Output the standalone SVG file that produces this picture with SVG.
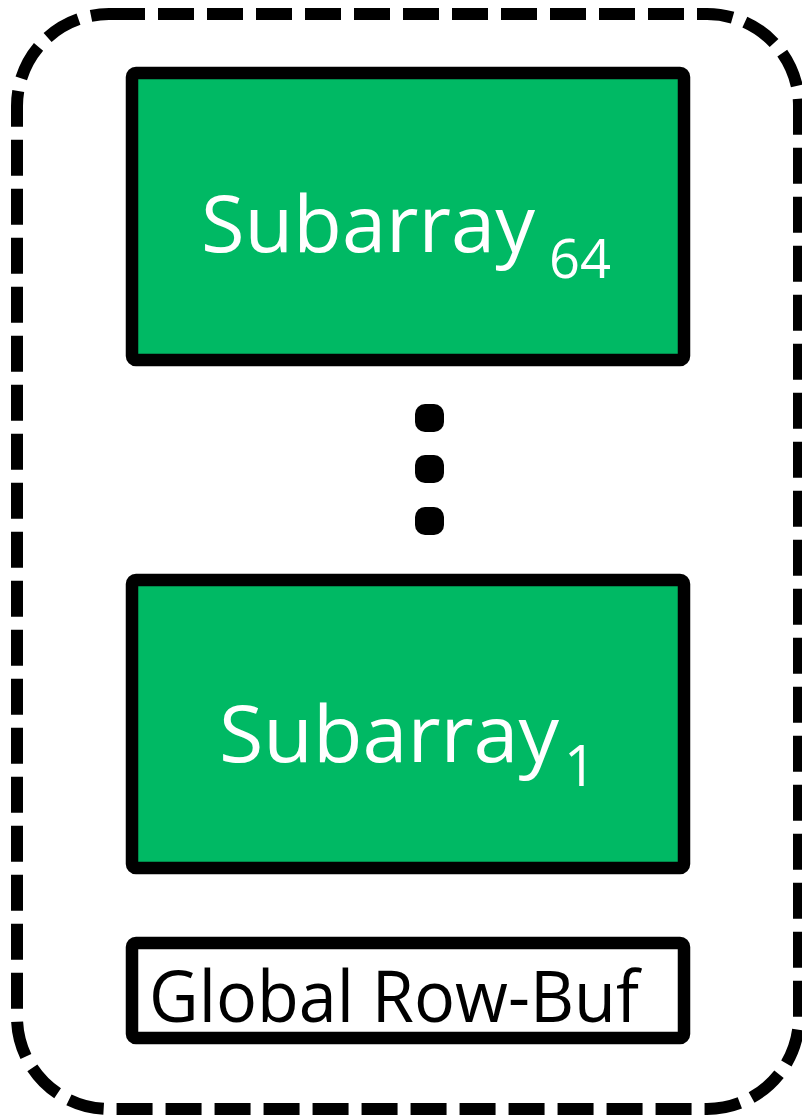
<svg xmlns="http://www.w3.org/2000/svg" width="802" height="1116" viewBox="0 0 802 1116">
<style>
.box{fill:#00B964;stroke:#000;stroke-width:12.5;stroke-linejoin:round}
.buf{fill:#fff;stroke:#000;stroke-width:12.5;stroke-linejoin:round}
.lbl{font-family:"Open Sans","Noto Sans",sans-serif;fill:#fff}
.blk{font-family:"Open Sans","Noto Sans",sans-serif;fill:#000}
.dot{fill:#000}
</style>
<g id="bank">
<rect x="17" y="14" width="782" height="1095" rx="92" ry="92" fill="none" stroke="#000" stroke-width="12" stroke-dasharray="36 13"/>
</g>
<g id="subarray64">
<rect class="box" x="132" y="73" width="552" height="287" rx="4"/>
<text class="lbl" font-size="78"><tspan x="201" y="252" textLength="334" lengthAdjust="spacingAndGlyphs">Subarray</tspan><tspan x="549" y="278" font-size="54" textLength="62" lengthAdjust="spacingAndGlyphs">64</tspan></text>
</g>
<g id="dots">
<rect class="dot" x="415" y="404" width="29" height="28" rx="10"/>
<rect class="dot" x="415" y="455" width="29" height="28" rx="10"/>
<rect class="dot" x="415" y="507" width="29" height="28" rx="10"/>
</g>
<g id="subarray1">
<rect class="box" x="132" y="580" width="552" height="288" rx="4"/>
<text class="lbl" font-size="78"><tspan x="219" y="762" textLength="340" lengthAdjust="spacingAndGlyphs">Subarray</tspan><tspan x="564" y="786" font-size="56">1</tspan></text>
</g>
<g id="globalrowbuf">
<rect class="buf" x="132" y="943" width="552" height="95" rx="4"/>
<text class="blk" font-size="71" x="149" y="1022" textLength="490" lengthAdjust="spacingAndGlyphs">Global Row-Buf</text>
</g>
<g id="connectors"></g>
</svg>
